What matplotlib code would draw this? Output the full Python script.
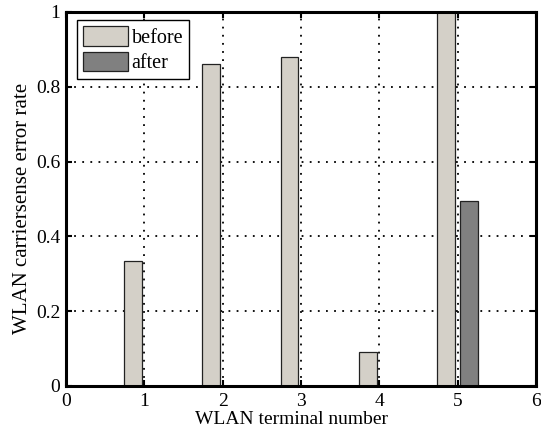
import matplotlib
matplotlib.use("Agg")
import matplotlib.pyplot as plt
import numpy as np

terminals = [1, 2, 3, 4, 5]
before = [0.335, 0.86, 0.88, 0.09, 1.0]
after = [0.0, 0.0, 0.0, 0.0, 0.495]
xticks = [0, 1, 2, 3, 4, 5, 6]
yticks = [0, 0.2, 0.4, 0.6, 0.8, 1]
yticklabels = ["0", "0.2", "0.4", "0.6", "0.8", "1"]

plt.rcParams['font.family'] = ['Liberation Serif', 'DejaVu Serif']
plt.rcParams['font.size'] = 14

fig = plt.figure(figsize=(5.41, 4.33), dpi=100)
ax = fig.add_axes([66/541, 1 - 386/433, (536-66)/541, (386-12)/433])

x = np.array(terminals, dtype=float)
w = 0.225
off = 0.145
ax.bar(x - off, before, width=w, color='#d4d0c8', edgecolor='#222222', linewidth=0.9, label='before', zorder=3)
ax.bar(x + off, after, width=w, color='#808080', edgecolor='#222222', linewidth=0.9, label='after', zorder=3)

ax.set_xlim(0, 6)
ax.set_ylim(0, 1)
ax.set_xticks(xticks)
ax.set_yticks(yticks)
ax.set_yticklabels(yticklabels)
ax.grid(True, color='black', linestyle=(0, (1, 3.5)), linewidth=1.3, zorder=1)
ax.set_axisbelow(False)
ax.tick_params(direction='in', length=4, width=1.5, labelsize=14, top=True, right=True)
ax.tick_params(axis='x', pad=5)
ax.tick_params(axis='y', pad=4)
for s in ax.spines.values():
    s.set_linewidth(2.2)
    s.set_zorder(5)

ax.set_xlabel('WLAN terminal number', fontsize=14)
ax.xaxis.set_label_coords(0.479, -0.067)
ax.set_ylabel('WLAN carriersense error rate', fontsize=15)
ax.yaxis.set_label_coords(-0.073, 0.476)

leg = ax.legend(loc='upper left', bbox_to_anchor=(0.024, 0.978), fontsize=14.5, frameon=True,
                fancybox=False, edgecolor='black', framealpha=1, handlelength=2.2, handleheight=1.1,
                borderpad=0.3, labelspacing=0.2, handletextpad=0.2, borderaxespad=0)
leg.get_frame().set_linewidth(1.0)
leg.set_zorder(6)

fig.savefig('out.png', dpi=100)
